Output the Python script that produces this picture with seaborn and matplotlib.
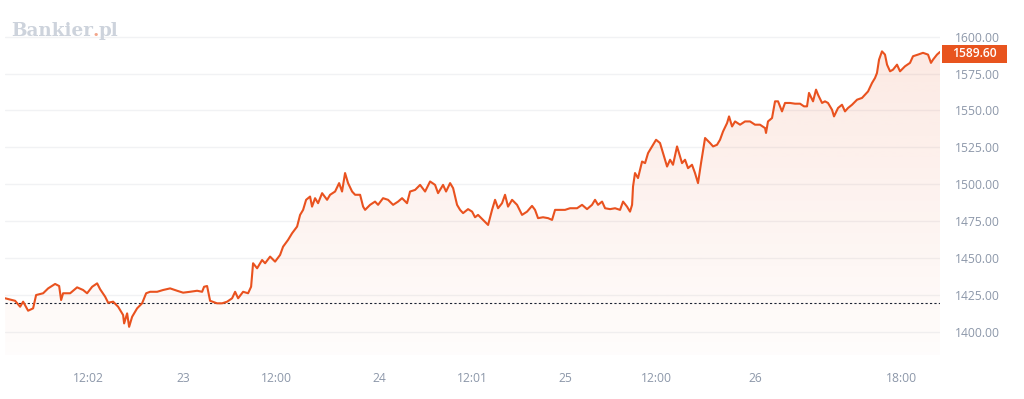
import matplotlib
matplotlib.use("Agg")
import numpy as np
import pandas as pd
import matplotlib.pyplot as plt
import seaborn as sns
from matplotlib.patches import Polygon, Rectangle
from matplotlib.colors import to_rgb
from matplotlib.transforms import blended_transform_factory

# ---- data (hours since 22nd 00:00, price) ----
hours = [1.52, 2.78, 3.41, 3.79, 4.42, 5.05, 5.43, 6.32, 6.95, 7.83,
         8.34, 8.59, 8.84, 9.73, 10.61, 11.37, 11.87, 12.51, 13.14, 13.52,
         14.15, 14.53, 15.16, 15.79, 16.42, 16.55, 16.93, 17.18, 17.56, 18.19,
         18.82, 19.33, 19.83, 20.72, 21.47, 22.36, 23.24, 24.00, 24.88, 25.77,
         26.40, 26.65, 27.03, 27.41, 28.29, 28.93, 29.56, 30.19, 30.57, 30.95,
         31.58, 32.21, 32.59, 32.84, 33.35, 33.98, 34.36, 34.99, 35.62, 36.25,
         36.63, 37.26, 37.77, 38.40, 38.78, 39.16, 39.54, 40.04, 40.29, 40.67,
         41.05, 41.56, 42.19, 42.57, 43.20, 43.71, 44.08, 44.46, 44.84, 45.35,
         45.73, 46.36, 46.74, 46.99, 47.62, 48.25, 48.63, 49.26, 49.89, 50.53,
         51.16, 51.66, 52.29, 52.67, 53.31, 53.94, 54.57, 55.20, 55.83, 56.21,
         56.84, 57.22, 57.73, 58.11, 58.61, 58.99, 59.37, 60.00, 60.51, 60.88,
         61.26, 61.89, 62.53, 63.03, 63.41, 63.79, 64.29, 64.67, 65.05, 65.56,
         66.19, 66.82, 67.45, 68.08, 68.46, 68.84, 69.47, 70.11, 70.61, 70.99,
         71.62, 72.25, 72.88, 73.77, 74.40, 75.03, 75.66, 76.04, 76.42, 76.93,
         77.31, 77.94, 78.57, 79.20, 79.58, 80.08, 80.46, 80.72, 80.84, 81.09,
         81.47, 81.98, 82.36, 82.74, 83.24, 83.75, 84.25, 84.63, 85.14, 85.52,
         85.89, 86.40, 86.65, 87.03, 87.41, 87.79, 88.29, 88.67, 89.05, 89.43,
         89.94, 90.57, 90.95, 91.45, 91.83, 92.21, 92.72, 92.97, 93.35, 93.73,
         94.36, 94.99, 95.62, 96.25, 96.88, 97.52, 97.64, 97.89, 98.40, 98.78,
         99.16, 99.66, 100.04, 100.67, 101.31, 101.94, 102.44, 102.82, 103.07, 103.58,
         103.96, 104.21, 104.72, 105.09, 105.47, 105.98, 106.23, 106.74, 107.24, 107.62,
         108.00, 108.51, 109.14, 109.77, 110.15, 110.53, 111.03, 111.41, 111.66, 111.92,
         112.29, 112.67, 112.93, 113.31, 113.68, 114.19, 114.57, 115.20, 115.83, 116.21,
         116.84, 117.47, 118.11, 118.48, 118.74, 119.24, 119.62]

prices = [1423.0, 1421.3, 1417.3, 1420.7, 1414.6, 1416.2, 1425.2, 1426.4, 1429.7, 1432.7,
          1431.3, 1421.8, 1426.4, 1426.4, 1430.4, 1428.6, 1426.4, 1430.8, 1433.1, 1429.1,
          1424.1, 1420.0, 1420.7, 1417.3, 1411.7, 1406.0, 1412.8, 1403.7, 1410.5, 1416.2,
          1419.6, 1426.4, 1427.4, 1427.4, 1428.6, 1429.7, 1428.1, 1426.8, 1427.4, 1428.1,
          1427.4, 1430.8, 1431.3, 1421.3, 1419.6, 1419.6, 1420.7, 1423.0, 1427.4, 1423.0,
          1427.4, 1426.4, 1430.8, 1446.7, 1443.3, 1448.9, 1446.7, 1451.2, 1447.8, 1452.3,
          1457.9, 1462.5, 1467.0, 1471.5, 1479.4, 1482.8, 1489.6, 1491.8, 1485.0, 1490.7,
          1487.3, 1494.1, 1489.6, 1493.0, 1495.2, 1500.9, 1495.2, 1507.7, 1500.9, 1495.2,
          1493.0, 1493.0, 1485.0, 1482.8, 1486.2, 1488.4, 1486.2, 1490.7, 1489.6, 1486.2,
          1488.4, 1490.7, 1487.3, 1495.2, 1496.3, 1499.7, 1495.2, 1502.0, 1499.7, 1494.1,
          1499.7, 1495.2, 1500.9, 1497.5, 1486.2, 1482.8, 1480.6, 1483.3, 1481.6, 1477.8,
          1479.4, 1476.0, 1472.6, 1482.8, 1489.6, 1483.9, 1487.3, 1493.0, 1485.0, 1489.6,
          1486.2, 1479.4, 1481.6, 1485.5, 1482.8, 1477.2, 1477.8, 1477.2, 1476.0, 1482.8,
          1482.8, 1482.8, 1483.9, 1483.9, 1486.2, 1483.3, 1486.2, 1489.6, 1486.2, 1488.4,
          1483.9, 1483.3, 1483.9, 1482.8, 1488.4, 1485.0, 1481.6, 1486.2, 1498.6, 1507.7,
          1504.3, 1515.5, 1514.4, 1521.2, 1525.7, 1530.2, 1528.0, 1521.2, 1512.1, 1516.7,
          1513.3, 1525.7, 1521.2, 1514.4, 1516.7, 1511.0, 1513.3, 1507.7, 1500.9, 1514.4,
          1531.4, 1528.0, 1525.7, 1526.8, 1530.2, 1535.8, 1541.5, 1546.0, 1539.2, 1542.6,
          1540.4, 1542.6, 1542.6, 1540.4, 1540.4, 1538.1, 1534.8, 1542.6, 1544.9, 1556.2,
          1556.2, 1549.4, 1555.1, 1555.1, 1554.6, 1554.6, 1552.8, 1552.8, 1561.9, 1556.2,
          1564.1, 1560.7, 1555.1, 1556.2, 1555.1, 1550.5, 1546.0, 1551.7, 1553.9, 1549.4,
          1551.7, 1553.9, 1557.3, 1558.5, 1560.7, 1562.9, 1568.6, 1572.0, 1575.4, 1584.4,
          1590.0, 1587.8, 1581.0, 1576.5, 1577.6, 1581.0, 1576.5, 1579.9, 1582.2, 1586.7,
          1587.8, 1589.0, 1587.8, 1582.2, 1584.4, 1587.8, 1589.6]

x_tick_pos = [12.0, 24.0, 35.75, 48.75, 60.5, 72.25, 83.75, 96.25, 114.8]
x_tick_labels = ["12:02", "23", "12:00", "24", "12:01", "25", "12:00", "26", "18:00"]
y_ticks = [1400, 1425, 1450, 1475, 1500, 1525, 1550, 1575, 1600]
ref_level = 1419.6
last_price = 1589.60

# ---- style ----
LINE = "#e9521f"
TICK = "#8c97a9"
GRID = "#f1f2f4"

sns.set_theme(style="white")
plt.rcParams["font.family"] = ["Open Sans", "DejaVu Sans"]

W, H = 1024, 399
fig = plt.figure(figsize=(W / 100, H / 100), dpi=100)
ax = fig.add_axes([5 / W, (H - 355) / H, 935 / W, (355 - 20) / H])

df = pd.DataFrame({"t": hours, "price": prices})

y_lo, y_hi = 1384.65, 1611.2
x_lo, x_hi = 1.5, 119.62

# gradient fill under the line
verts = np.column_stack([[df.t.iloc[0]] + list(df.t) + [df.t.iloc[-1]],
                         [y_lo] + list(df.price) + [y_lo]])
patch = Polygon(verts, closed=True, facecolor="none", edgecolor="none")
ax.add_patch(patch)
n = 256
rgba = np.zeros((n, 1, 4))
rgba[..., :3] = to_rgb(LINE)
rgba[..., 3] = np.linspace(0.13, 0.015, n)[:, None]
im = ax.imshow(rgba, extent=[x_lo, x_hi, y_lo, 1600], aspect="auto",
               origin="upper", zorder=1, interpolation="bilinear")
im.set_clip_path(patch)

sns.lineplot(data=df, x="t", y="price", ax=ax, color=LINE, linewidth=1.5,
             zorder=3, estimator=None)

ax.axhline(ref_level, color="#1c2333", linestyle=(0, (2, 2)), linewidth=0.8, zorder=2)

ax.set_xlim(x_lo, x_hi)
ax.set_ylim(y_lo, y_hi)

ax.set_yticks(y_ticks)
ax.set_yticklabels([f"{v:.2f}" for v in y_ticks])
ax.yaxis.tick_right()
ax.yaxis.grid(True, color=GRID, linewidth=1.0, zorder=0)
ax.xaxis.grid(False)
ax.set_xticks(x_tick_pos)
ax.set_xticklabels(x_tick_labels)
ax.tick_params(axis="y", length=0, pad=11, labelsize=8.7, labelcolor=TICK)
ax.tick_params(axis="x", length=0, pad=12, labelsize=8.7, labelcolor=TICK)
for s in ax.spines.values():
    s.set_visible(False)
ax.set_xlabel("")
ax.set_ylabel("")
ax.set_facecolor("none")

# last price label box
trans = blended_transform_factory(ax.transAxes, ax.transData)
box_h = 12.0
box_c = last_price - 1.3
ax.add_patch(Rectangle((1.0018, box_c - box_h / 2), 0.0695, box_h, transform=trans,
                       facecolor="#e8541e", edgecolor="none", clip_on=False, zorder=5))
ax.text(1.0018 + 0.0695 / 2, box_c, f"{last_price:.2f}", transform=trans,
        ha="center", va="center", color="white", fontsize=8.7,
        fontweight="semibold", zorder=6, clip_on=False)

# logo
logo_kw = dict(fontsize=13.2, fontweight="bold", family=["DejaVu Serif"])
t1 = fig.text(10.7 / W, (H - 36) / H, "Bankier", color="#cdd3dc", va="baseline", **logo_kw)
t2 = fig.text(0, 0, ".", color="#f2a58a", **logo_kw)
t3 = fig.text(0, 0, "pl", color="#cdd3dc", **logo_kw)
fig.canvas.draw()
r = fig.canvas.get_renderer()
bb1 = t1.get_window_extent(r)
t2.set_position((bb1.x1 / W, (H - 36) / H)); t2.set_va("baseline")
fig.canvas.draw()
bb2 = t2.get_window_extent(r)
t3.set_position((bb2.x1 / W, (H - 36) / H)); t3.set_va("baseline")

fig.savefig("out.png", dpi=100)
